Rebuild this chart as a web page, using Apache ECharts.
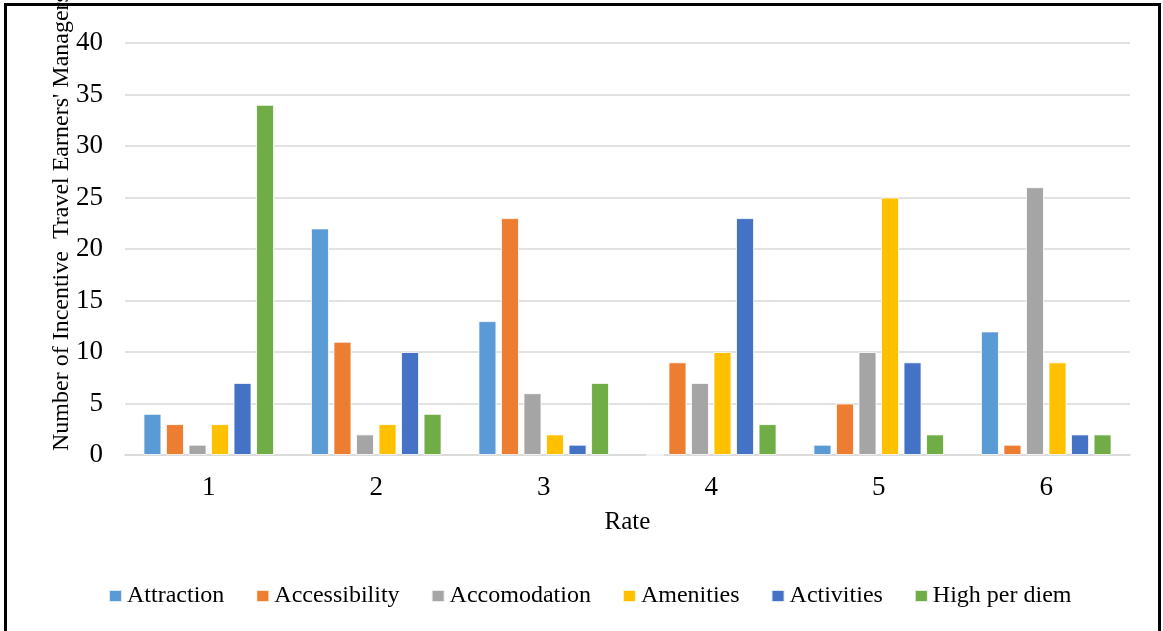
<!DOCTYPE html>
<html>
<head>
<meta charset="utf-8">
<script src="https://cdn.jsdelivr.net/npm/echarts@6/dist/echarts.min.js"></script>
<style>
  html, body { margin: 0; padding: 0; background: #fff; }
  #chart { position: absolute; left: 0; top: 0; width: 1163px; height: 631px; }
  #frame {
    position: absolute; left: 4px; top: 3px; width: 1151px; height: 625px;
    border-left: 3px solid #000; border-top: 3px solid #000; border-right: 3px solid #000;
    border-bottom: 1px solid #d0d0d0; pointer-events: none;
  }
</style>
</head>
<body>
<div id="chart"></div>
<div id="frame"></div>
<script>
// Rating scale along the x axis
const rates = ['1', '2', '3', '4', '5', '6'];
const yTicks = [0, 5, 10, 15, 20, 25, 30, 35, 40];

// Number of respondents giving each rate, per factor
const attraction    = [4, 22, 13, 0, 1, 12];
const accessibility = [3, 11, 23, 9, 5, 1];
const accomodation  = [1, 2, 6, 7, 10, 26];
const amenities     = [3, 3, 2, 10, 25, 9];
const activities    = [7, 10, 1, 23, 9, 2];
const highPerDiem   = [34, 4, 7, 3, 2, 2];

const seriesNames = ['Attraction', 'Accessibility', 'Accomodation', 'Amenities', 'Activities', 'High per diem'];
const seriesData = [attraction, accessibility, accomodation, amenities, activities, highPerDiem];
const colors = ['#5B9BD5', '#ED7D31', '#A5A5A5', '#FFC000', '#4472C4', '#70AD47'];

const serif = '"Liberation Serif", "DejaVu Serif", serif';

const chart = echarts.init(document.getElementById('chart'), null, { renderer: 'canvas' });

chart.setOption({
  animation: false,
  backgroundColor: '#fff',
  color: colors,
  grid: { left: 125, right: 33, top: 43, bottom: 176, containLabel: false },
  legend: {
    data: seriesNames,
    left: 103,
    top: 579,
    icon: 'rect',
    itemWidth: 13,
    itemHeight: 12,
    itemGap: 31,
    textStyle: { fontFamily: serif, fontSize: 24, color: '#000' }
  },
  xAxis: {
    type: 'category',
    data: rates,
    name: 'Rate',
    nameLocation: 'middle',
    nameGap: 55,
    nameTextStyle: { fontFamily: serif, fontSize: 25, color: '#000' },
    axisLine: { show: true, lineStyle: { color: '#d9d9d9', width: 1.5 } },
    axisTick: { show: false },
    axisLabel: { fontFamily: serif, fontSize: 27, color: '#000', margin: 19 }
  },
  yAxis: {
    type: 'value',
    min: yTicks[0],
    max: yTicks[yTicks.length - 1],
    interval: yTicks[1] - yTicks[0],
    axisLine: { show: false },
    axisTick: { show: false },
    splitLine: { lineStyle: { color: '#d9d9d9', width: 1.5 } },
    axisLabel: { fontFamily: serif, fontSize: 27, color: '#000', margin: 22 }
  },
  graphic: [{
    type: 'text',
    x: 62,
    y: 451,
    rotation: Math.PI / 2,
    style: {
      text: "Number of Incentive  Travel Earners' Managers",
      fontFamily: serif,
      fontSize: 24,
      fill: '#000',
      align: 'left',
      verticalAlign: 'middle'
    }
  }],
  series: seriesNames.map((name, i) => ({
    name: name,
    type: 'bar',
    data: seriesData[i],
    barGap: '25%',
    barCategoryGap: '22%',
    itemStyle: { borderColor: 'rgba(255,255,255,0.8)', borderWidth: 1 }
  }))
});
</script>
</body>
</html>
